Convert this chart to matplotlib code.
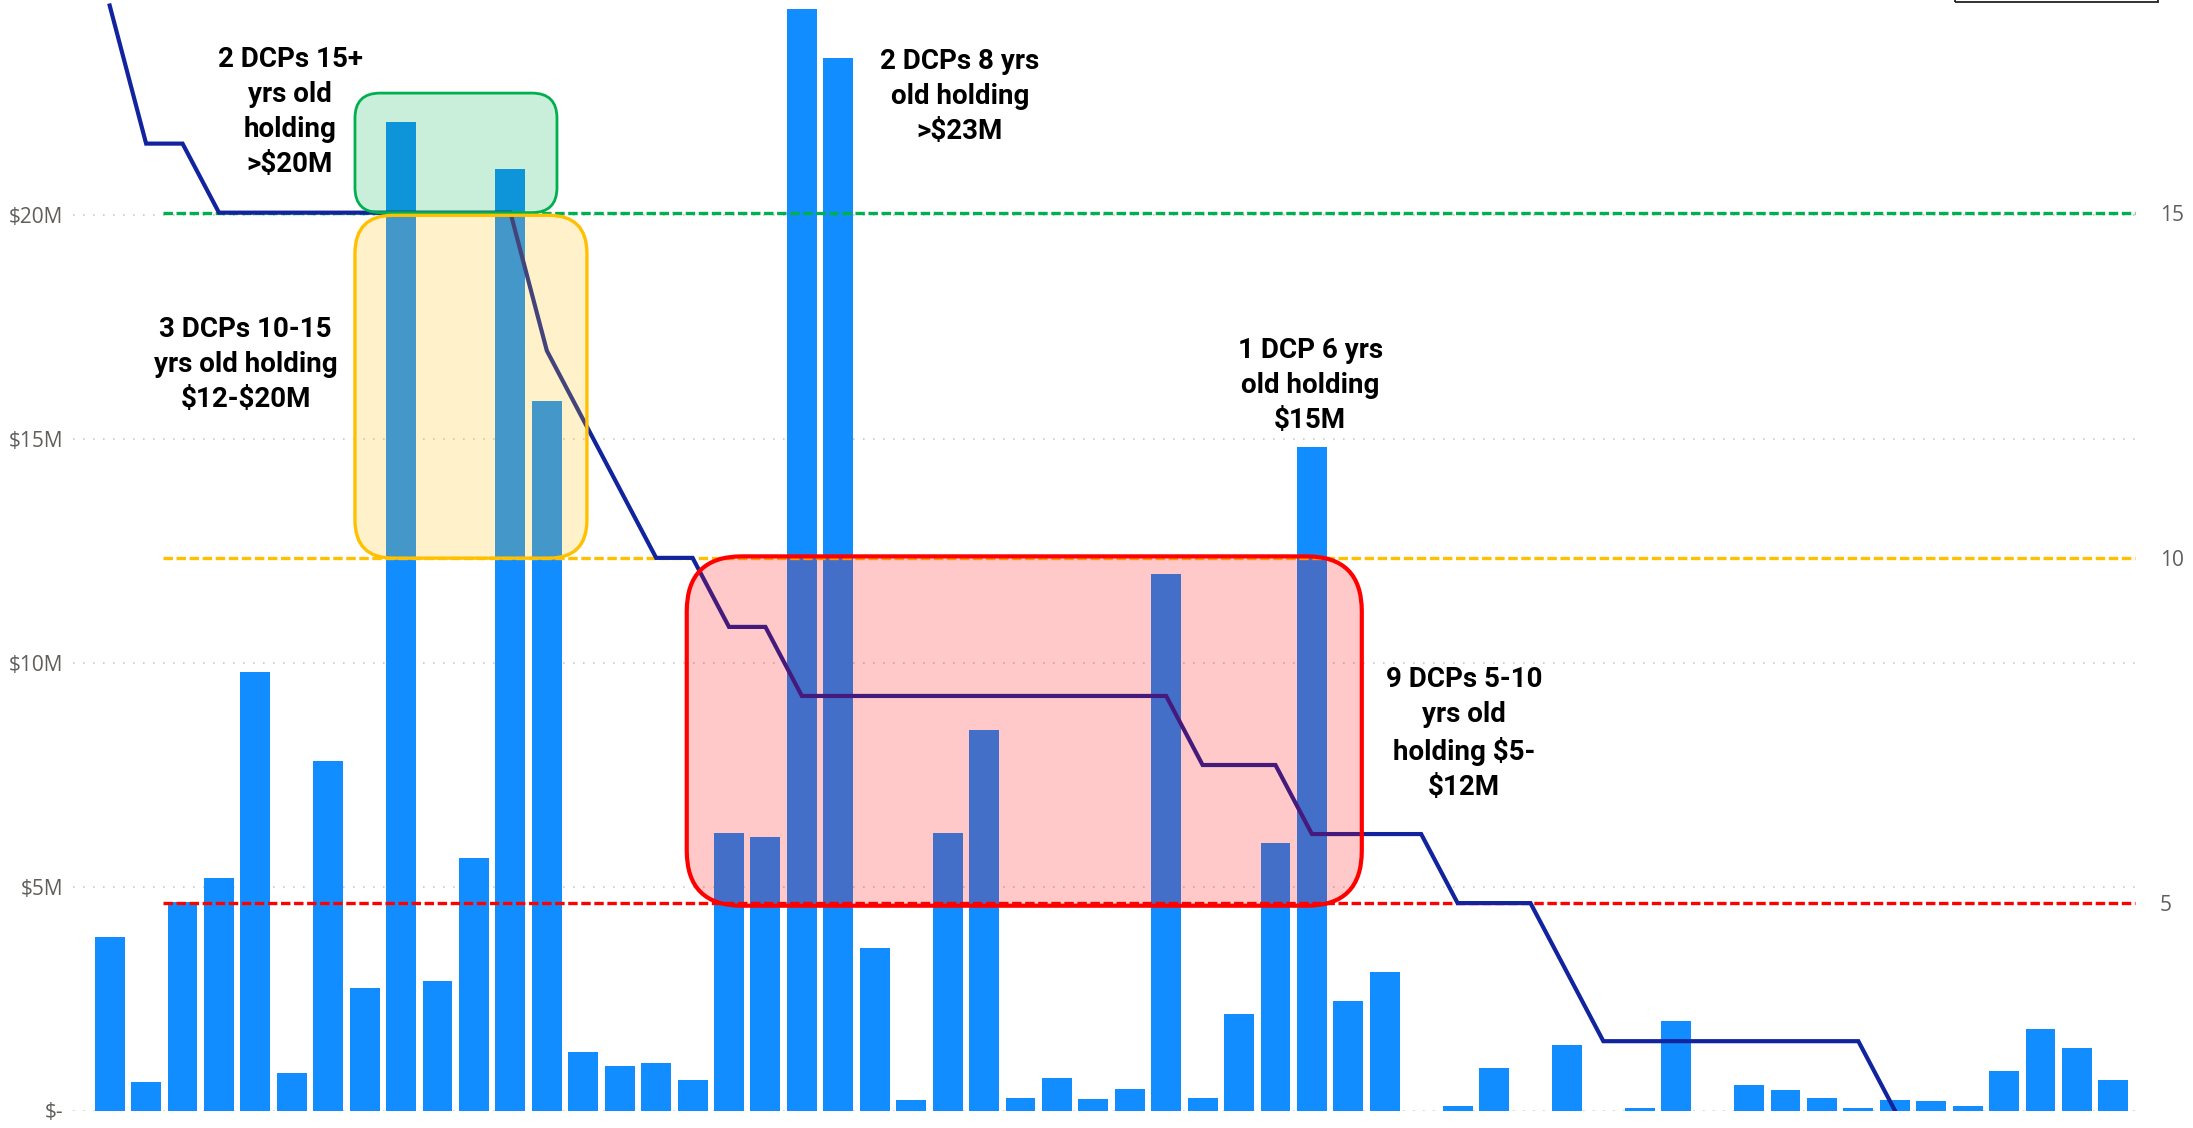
import numpy as np
import matplotlib
matplotlib.use("Agg")
import matplotlib.pyplot as plt
from matplotlib.patches import FancyBboxPatch, Rectangle
from matplotlib.colors import to_rgba

plt.rcParams['lines.scale_dashes'] = False

# ---------------- data ----------------
categories = [f"DCP {i}" for i in range(1, 57)]

holdings_m = [3.88, 0.64, 4.66, 5.19, 9.79, 0.83, 7.81, 2.74, 22.09, 2.89,
              5.64, 21.03, 15.85, 1.31, 0.99, 1.06, 0.68, 6.19, 6.11, 24.61,
              23.51, 3.63, 0.23, 6.19, 8.50, 0.28, 0.73, 0.26, 0.48, 11.99,
              0.28, 2.15, 5.98, 14.82, 2.44, 3.09, 0.0, 0.10, 0.94, 0.0,
              1.46, 0.0, 0.05, 2.01, 0.0, 0.56, 0.45, 0.29, 0.06, 0.24,
              0.22, 0.10, 0.89, 1.83, 1.39, 0.68]

age_years = [18, 16, 16, 15, 15, 15, 15, 15, 15, 15,
             15, 15, 13, 12, 11, 10, 10, 9, 9, 8,
             8, 8, 8, 8, 8, 8, 8, 8, 8, 8,
             7, 7, 7, 6, 6, 6, 6, 5, 5, 5,
             4, 3, 3, 3, 3, 3, 3, 3, 3, 2,
             np.nan, np.nan, np.nan, np.nan, np.nan, np.nan]

left_ticks = [0, 5, 10, 15, 20]
left_tick_labels = ["$-", "$5M", "$10M", "$15M", "$20M"]
right_ticks = [5, 10, 15]
right_tick_labels = ["5", "10", "15"]

age_thresholds = [15, 10, 5]
threshold_colors = ["#00B050", "#FFC000", "#FF0000"]

annotations = [
    "2 DCPs 15+\nyrs old\nholding\n>$20M",
    "3 DCPs 10-15\nyrs old holding\n$12-$20M",
    "2 DCPs 8 yrs\nold holding\n>$23M",
    "1 DCP 6 yrs\nold holding\n$15M",
    "9 DCPs 5-10\nyrs old\nholding $5-\n$12M",
]

# ---------------- layout ----------------
W, H = 2193, 1128
fig = plt.figure(figsize=(W / 100, H / 100), dpi=100)
ax = fig.add_axes([73 / W, 17.5 / H, (2142 - 73) / W, 1 - 17.5 / H])
ax2 = ax.twinx()

x = np.arange(len(categories))
BAR = "#118DFF"
LINE = "#12239E"

ax.bar(x, holdings_m, width=0.82, color=BAR, zorder=2)
ax.set_xlim(-1.007, 55.786)
ax.set_ylim(0, 24.81)
ax.set_yticks(left_ticks)
ax.set_yticklabels(left_tick_labels)
ax.yaxis.grid(True, color="#C8C6C4", linestyle=(0, (1.2, 6)), linewidth=1.1, zorder=0)
ax.set_axisbelow(True)
ax.set_xticks([])

ax2.plot(x, age_years, color=LINE, lw=3.0, solid_joinstyle="miter", zorder=4)
ax2.set_ylim(1.996, 18.08)
ax2.set_yticks(right_ticks)
ax2.set_yticklabels(right_tick_labels)

for a in (ax, ax2):
    for s in a.spines.values():
        s.set_visible(False)
    a.tick_params(length=0, labelsize=15, labelcolor="#605E5C")
    for lab in a.get_yticklabels():
        lab.set_fontfamily(["Open Sans", "DejaVu Sans"])
ax.tick_params(axis="y", pad=7)
ax2.tick_params(axis="y", pad=13)

# threshold (age) reference lines
for val, col in zip(age_thresholds, threshold_colors):
    ax2.plot([1.464, 55.60], [val, val], color=col, lw=2.4,
             linestyle=(0, (6.8, 2.6)), zorder=3)

# highlight boxes (drawn over the line, positioned in bar-axis coords)
px_x = 36.43   # pixels per category
px_y = 44.76   # pixels per $1M
boxes = [
    # x0, x1, y0, y1, radius_px, edge colour, edge width
    (6.733, 12.278, 20.06, 22.73, 25, "#00B050", 2.0),
    (6.733, 13.10, 12.34, 20.00, 38, "#FFC000", 2.4),
    (15.84, 34.37, 4.575, 12.38, 55, "#FF0000", 3.0),
]
for x0, x1, y0, y1, r, col, lw in boxes:
    p = FancyBboxPatch((x0, y0), x1 - x0, y1 - y0,
                       boxstyle=f"round,pad=0,rounding_size={r / px_x}",
                       mutation_aspect=px_x / px_y,
                       facecolor=to_rgba(col, 0.21), edgecolor=col, lw=lw,
                       transform=ax.transData, zorder=5)
    ax2.add_patch(p)

text_pos = [(4.95, 22.31), (3.73, 16.66), (23.34, 22.65), (32.95, 16.19), (37.18, 8.43)]
for s, (tx, ty) in zip(annotations, text_pos):
    ax2.text(tx, ty, s, transform=ax.transData, ha="center", va="center",
             multialignment="center", fontsize=20, fontweight="semibold",
             family=["Roboto", "DejaVu Sans"], color="black",
             linespacing=1.38, zorder=6, parse_math=False)

ax2.set_ylim(1.996, 18.08)

# partially visible frame at the top right
fig.add_artist(Rectangle((1955 / W, 1 - 2 / H), (2158 - 1955) / W, 0.05,
                         transform=fig.transFigure, fill=False,
                         edgecolor="#222222", lw=1.3, clip_on=False))

fig.savefig("out.png", dpi=100, facecolor="white")
